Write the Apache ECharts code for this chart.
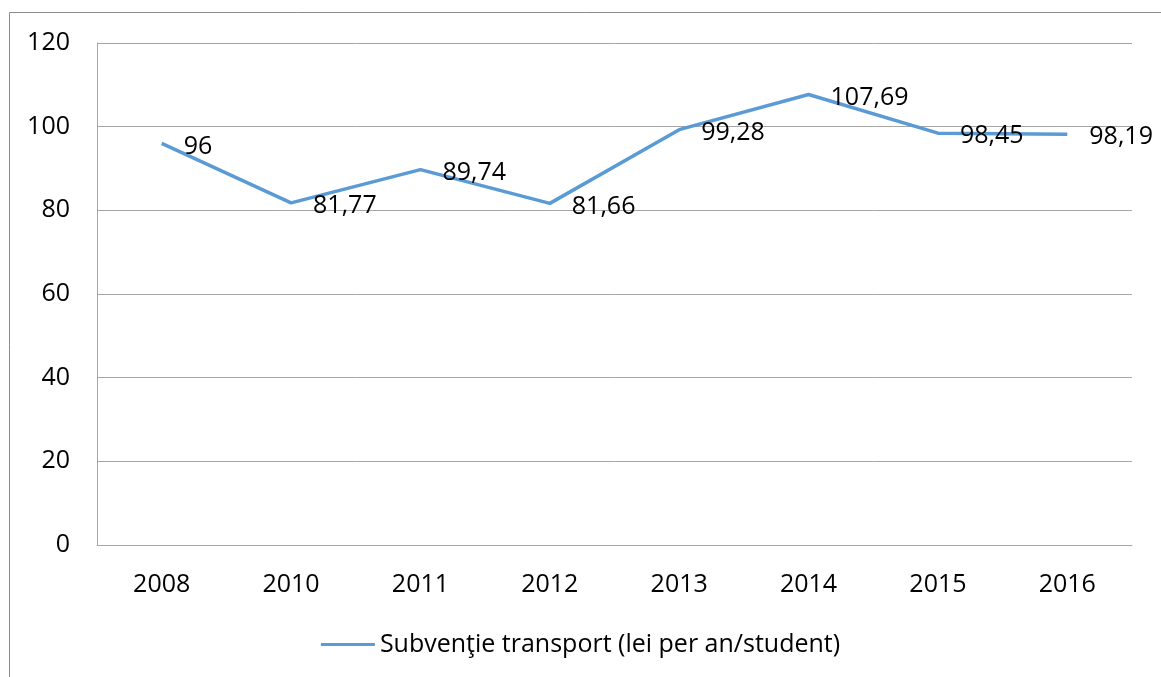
<!DOCTYPE html>
<html>
<head>
<meta charset="utf-8">
<script src="https://cdn.jsdelivr.net/npm/echarts@6/dist/echarts.min.js"></script>
<style>
html,body{margin:0;padding:0;background:#fff;}
#chart{width:1161px;height:677px;}
</style>
</head>
<body>
<div id="chart"></div>
<script>
const categories = ['2008', '2010', '2011', '2012', '2013', '2014', '2015', '2016'];
const values = [96, 81.77, 89.74, 81.66, 99.28, 107.69, 98.45, 98.19];
const seriesName = 'Subvenţie transport (lei per an/student)';
const yTicks = [0, 20, 40, 60, 80, 100, 120];

const FONT = '"Open Sans", "Noto Sans", sans-serif';
const chart = echarts.init(document.getElementById('chart'), null, {renderer: 'canvas'});
chart.setOption({
  animation: false,
  backgroundColor: '#fff',
  textStyle: {fontFamily: FONT},
  graphic: [
    {type: 'line', shape: {x1: 9.5, y1: 12.5, x2: 1161, y2: 12.5}, style: {stroke: '#8c8c8c', lineWidth: 1}},
    {type: 'line', shape: {x1: 9.5, y1: 12.5, x2: 9.5, y2: 677}, style: {stroke: '#8c8c8c', lineWidth: 1}}
  ],
  grid: {left: 97, right: 29, top: 43, bottom: 132, containLabel: false},
  legend: {
    data: [seriesName],
    bottom: 15,
    left: 'center',
    itemWidth: 54,
    itemHeight: 3,
    icon: 'rect',
    textStyle: {fontSize: 25, color: '#000', fontFamily: FONT}
  },
  xAxis: {
    type: 'category',
    data: categories,
    boundaryGap: true,
    axisLine: {show: true, lineStyle: {color: '#A6A6A6', width: 1}},
    axisTick: {show: false},
    axisLabel: {fontSize: 25, color: '#000', margin: 27, fontFamily: FONT}
  },
  yAxis: {
    type: 'value',
    min: yTicks[0],
    max: yTicks[yTicks.length - 1],
    interval: 20,
    axisLine: {show: true, lineStyle: {color: '#A6A6A6', width: 1}},
    axisTick: {show: false},
    splitLine: {show: true, lineStyle: {color: '#A6A6A6', width: 1}},
    axisLabel: {fontSize: 25, color: '#000', margin: 27, fontFamily: FONT}
  },
  series: [{
    name: seriesName,
    type: 'line',
    data: values,
    symbol: 'circle',
    symbolSize: 0,
    lineStyle: {color: '#5B9BD5', width: 3.5},
    itemStyle: {color: '#5B9BD5'},
    label: {
      show: true,
      position: 'right',
      distance: 22,
      offset: [0, 3],
      fontSize: 25,
      color: '#000',
      fontFamily: FONT,
      formatter: p => String(p.value).replace('.', ',')
    }
  }]
});
</script>
</body>
</html>
